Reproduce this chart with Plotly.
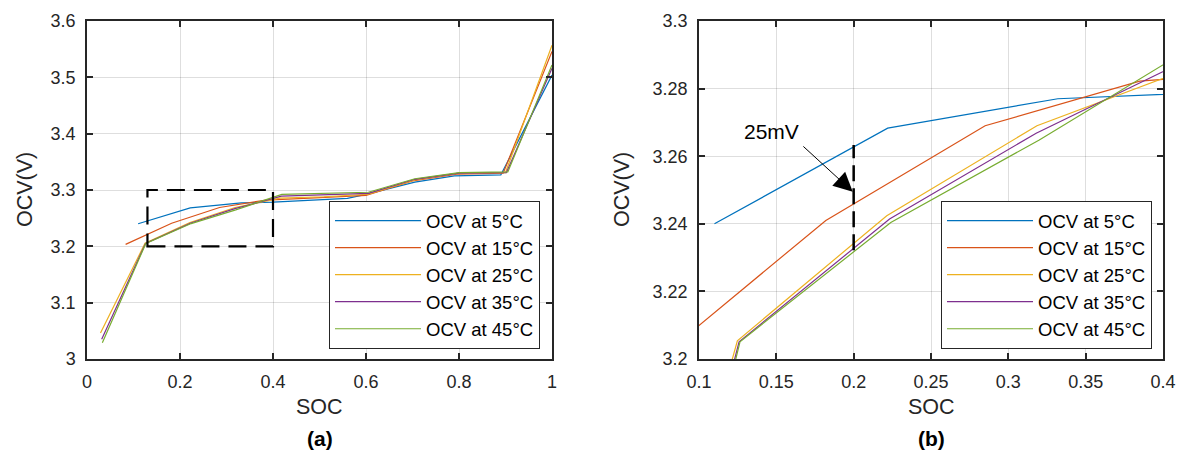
import plotly.graph_objects as go

# ---------------- data ----------------
names = ["OCV at 5°C", "OCV at 15°C", "OCV at 25°C", "OCV at 35°C", "OCV at 45°C"]
colors = ["#0072BD", "#D95319", "#EDB120", "#7E2F8E", "#77AC30"]

soc_5 = [0.110, 0.222, 0.332, 0.400, 0.560, 0.600, 0.705, 0.790, 0.890, 1.000]
ocv_5 = [3.2400, 3.2683, 3.2770, 3.2783, 3.2850, 3.2920, 3.3140, 3.3250, 3.3270, 3.5040]

soc_15 = [0.083, 0.182, 0.285, 0.385, 0.490, 0.600, 0.700, 0.795, 0.895, 1.000]
ocv_15 = [3.2035, 3.2410, 3.2690, 3.2822, 3.2860, 3.2905, 3.3160, 3.3280, 3.3300, 3.5460]

soc_25 = [0.029, 0.1248, 0.2214, 0.3185, 0.415, 0.510, 0.605, 0.705, 0.800, 0.900, 1.000]
ocv_25 = [3.0460, 3.2054, 3.2424, 3.2690, 3.2856, 3.2880, 3.2925, 3.3180, 3.3300, 3.3310, 3.5570]

soc_35 = [0.0316, 0.1259, 0.2232, 0.318, 0.418, 0.510, 0.605, 0.705, 0.800, 0.902, 1.000]
ocv_35 = [3.0350, 3.2051, 3.2414, 3.2668, 3.2890, 3.2915, 3.2940, 3.3190, 3.3300, 3.3310, 3.5160]

soc_45 = [0.033, 0.1265, 0.224, 0.320, 0.419, 0.510, 0.605, 0.705, 0.800, 0.905, 1.000]
ocv_45 = [3.0290, 3.2051, 3.2404, 3.2648, 3.2923, 3.2940, 3.2960, 3.3200, 3.3310, 3.3320, 3.5220]

soc_sets = [soc_5, soc_15, soc_25, soc_35, soc_45]
ocv_sets = [ocv_5, ocv_15, ocv_25, ocv_35, ocv_45]

# axis ticks
xa_ticks = [0, 0.2, 0.4, 0.6, 0.8, 1]
ya_ticks = [3, 3.1, 3.2, 3.3, 3.4, 3.5, 3.6]
xb_ticks = [0.1, 0.15, 0.2, 0.25, 0.3, 0.35, 0.4]
yb_ticks = [3.2, 3.22, 3.24, 3.26, 3.28, 3.3]

# zoom box (panel a) and 25 mV marker (panel b)
box_soc = [0.13, 0.40]
box_ocv = [3.20, 3.30]
mark_soc = 0.2
mark_ocv = [3.2322, 3.2633]
arrow_tail = (0.1665, 3.2633)
arrow_tip = (0.1994, 3.2495)
label_pos = (0.147, 3.2672)

W, H = 1185, 452
OFF = 8  # page body margin of the html page
FONT = "Liberation Sans, Arial, sans-serif"
DARK = "#262626"

fig = go.Figure()
for i in range(5):
    fig.add_trace(go.Scatter(x=soc_sets[i], y=ocv_sets[i], mode="lines", name=names[i],
                             line=dict(color=colors[i], width=1.2),
                             xaxis="x", yaxis="y", legend="legend"))
for i in range(5):
    fig.add_trace(go.Scatter(x=soc_sets[i], y=ocv_sets[i], mode="lines", name=names[i],
                             line=dict(color=colors[i], width=1.2),
                             xaxis="x2", yaxis="y2", legend="legend2"))

def px_x(p):
    return (p - OFF) / W

def px_y(p):
    return 1 - (p - OFF) / H

ydom = [px_y(359), px_y(21)]

axis_common = dict(showline=True, linecolor=DARK, linewidth=1.5, mirror="ticks",
                   ticks="inside", ticklen=6, tickwidth=1.5, tickcolor=DARK,
                   showgrid=True, gridcolor="rgba(0,0,0,0.13)", gridwidth=1,
                   zeroline=False, tickfont=dict(family=FONT, size=18, color=DARK),
                   ticklabelstandoff=6, automargin=False)

legend_common = dict(font=dict(family=FONT, size=18.5, color="black"),
                     bgcolor="white", bordercolor=DARK, borderwidth=1,
                     itemwidth=86, xanchor="right", yanchor="bottom",
                     tracegroupgap=0)

fig.update_layout(
    width=W, height=H,
    margin=dict(l=0, r=0, t=0, b=0, autoexpand=False),
    paper_bgcolor="white", plot_bgcolor="white",
    font=dict(family=FONT, color=DARK),
    xaxis=dict(domain=[px_x(87), px_x(552)], range=[0, 1], tickvals=xa_ticks,
               anchor="y", **axis_common),
    yaxis=dict(domain=ydom, range=[3, 3.6], tickvals=ya_ticks, anchor="x", **axis_common),
    xaxis2=dict(domain=[px_x(699), px_x(1163)], range=[0.1, 0.4], tickvals=xb_ticks,
                anchor="y2", **axis_common),
    yaxis2=dict(domain=ydom, range=[3.2, 3.3], tickvals=yb_ticks, anchor="x2", **axis_common),
    legend=dict(x=px_x(540), y=px_y(349), **legend_common),
    legend2=dict(x=px_x(1152), y=px_y(349), **legend_common),
    showlegend=True,
)

# zoom rectangle in panel (a)
fig.add_shape(type="rect", xref="x", yref="y", x0=box_soc[0], x1=box_soc[1],
              y0=box_ocv[0], y1=box_ocv[1], line=dict(color="black", width=2.2, dash="18px,9px"))
# 25 mV marker in panel (b)
fig.add_shape(type="line", xref="x2", yref="y2", x0=mark_soc, x1=mark_soc,
              y0=mark_ocv[0], y1=mark_ocv[1], line=dict(color="black", width=2.5, dash="16px,7px"))
fig.add_annotation(xref="x2", yref="y2", x=arrow_tip[0], y=arrow_tip[1],
                   axref="x2", ayref="y2", ax=arrow_tail[0], ay=arrow_tail[1],
                   text="", showarrow=True, arrowhead=2, arrowsize=3.8, arrowwidth=1,
                   arrowcolor="black")
fig.add_annotation(xref="x2", yref="y2", x=label_pos[0], y=label_pos[1], text="25mV",
                   xanchor="center", yanchor="middle",
                   showarrow=False, font=dict(family=FONT, size=21, color="black"))

# axis titles and panel labels
for cx, lab in [((87 + 552) / 2, "(a)"), ((699 + 1163) / 2, "(b)")]:
    fig.add_annotation(xref="paper", yref="paper", x=px_x(cx), y=px_y(407), text="SOC",
                       xanchor="center", yanchor="middle",
                       showarrow=False, font=dict(family=FONT, size=21.5, color=DARK))
    fig.add_annotation(xref="paper", yref="paper", x=px_x(cx), y=px_y(438),
                       text="<b>" + lab + "</b>", xanchor="center", yanchor="middle",
                       showarrow=False, font=dict(family=FONT, size=21, color="black"))
for cx in [25, 622]:
    fig.add_annotation(xref="paper", yref="paper", x=px_x(cx), y=px_y(190), text="OCV(V)",
                       textangle=-90, xanchor="center", yanchor="middle", showarrow=False,
                       font=dict(family=FONT, size=21.5, color=DARK))

fig.write_html("out.html")
